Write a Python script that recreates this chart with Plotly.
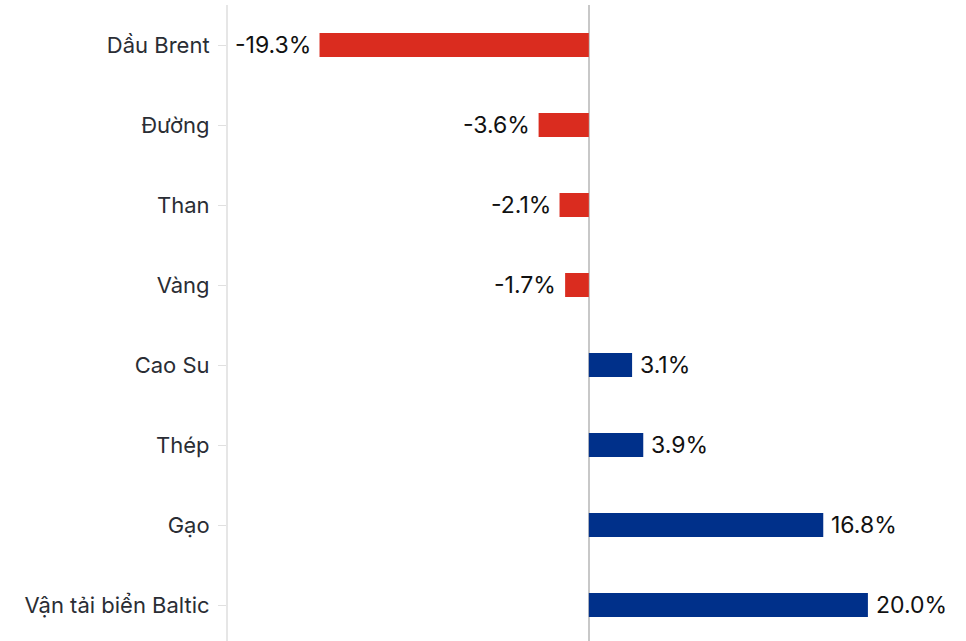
import plotly.graph_objects as go

categories = ["Dầu Brent", "Đường", "Than", "Vàng", "Cao Su", "Thép", "Gạo", "Vận tải biển Baltic"]
values = [-19.3, -3.6, -2.1, -1.7, 3.1, 3.9, 16.8, 20.0]
labels = ["-19.3%", "-3.6%", "-2.1%", "-1.7%", "3.1%", "3.9%", "16.8%", "20.0%"]

RED = "#DA2C1F"
BLUE = "#00308A"
colors = [RED if v < 0 else BLUE for v in values]

fig = go.Figure()
fig.add_trace(go.Bar(
    x=values, y=categories, orientation="h",
    marker=dict(color=colors, line=dict(width=0)),
    hoverinfo="skip",
))

for c, v, t in zip(categories, values, labels):
    fig.add_annotation(
        x=v, y=c, text=t, showarrow=False,
        xanchor="right" if v < 0 else "left",
        xshift=-7 if v < 0 else 6,
        font=dict(family="Inter", size=23, color="#111111"),
    )

fig.update_layout(
    width=966, height=641,
    margin=dict(l=228, r=0, t=5, b=0),
    paper_bgcolor="white", plot_bgcolor="white",
    bargap=0.7,
    showlegend=False,
    font=dict(family="Inter", size=22, color="#2a2d34"),
    xaxis=dict(
        range=[-25.86, 27.03],
        showgrid=False, showticklabels=False, ticks="",
        zeroline=True, zerolinecolor="#c8c8c8", zerolinewidth=2,
    ),
    yaxis=dict(
        type="category",
        categoryorder="array", categoryarray=categories,
        range=[7.45, -0.5],
        showgrid=False, zeroline=False,
        showline=True, linecolor="#e6e6e6", linewidth=2,
        ticks="outside", ticklen=8, tickcolor="#e0e0e0", tickwidth=1,
        ticklabelstandoff=4,
        tickfont=dict(family="Inter", size=22, color="#2a2d34"),
    ),
)

fig.write_html("out.html")
